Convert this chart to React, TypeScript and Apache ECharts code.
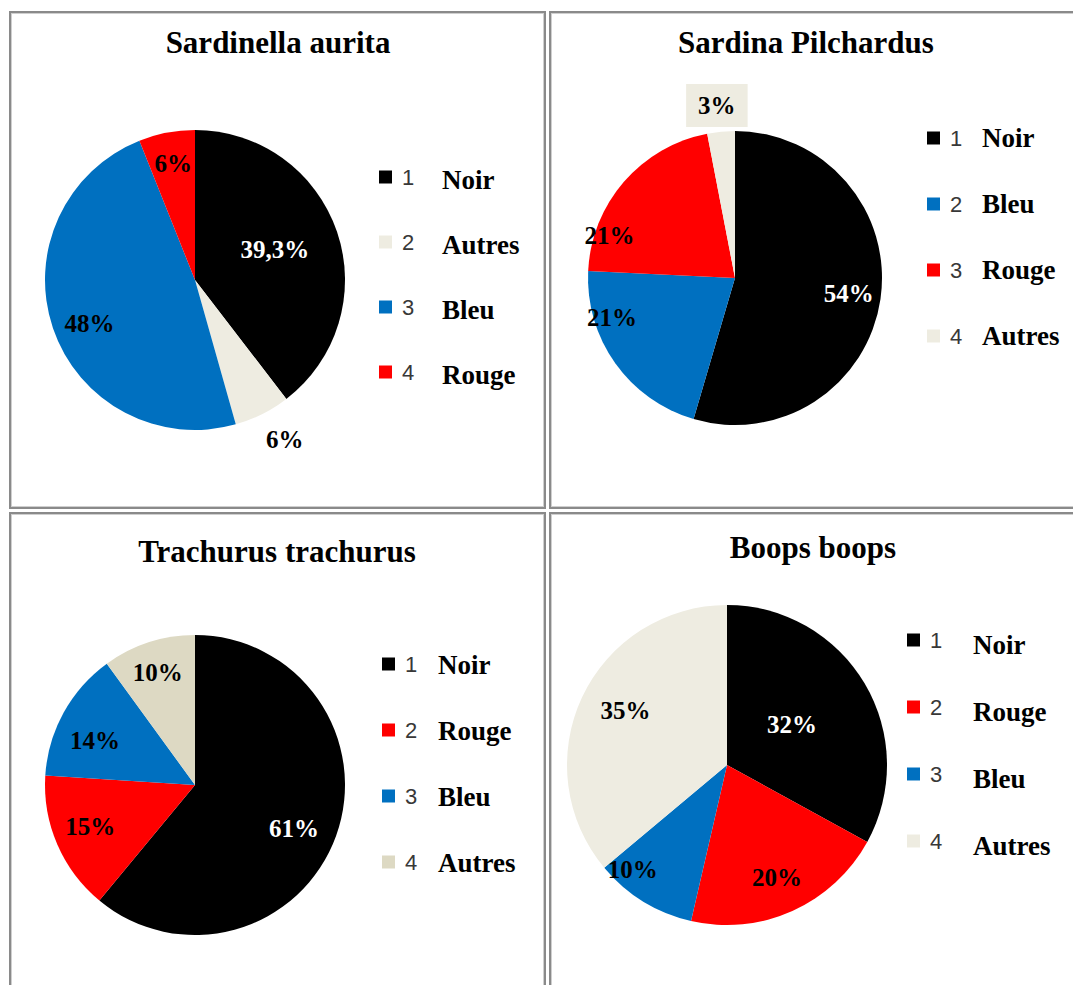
import React, { useEffect, useRef } from "react";
import * as echarts from "echarts";

// ---- data ----
const saNames = ["Noir", "Autres", "Bleu", "Rouge"];
const saValues = [39.3, 6, 48, 6];

const spNames = ["Noir", "Bleu", "Rouge", "Autres"];
const spValues = [54, 21, 21, 3];

const ttNames = ["Noir", "Rouge", "Bleu", "Autres"];
const ttValues = [61, 15, 14, 10];

const bbNames = ["Noir", "Rouge", "Bleu", "Autres"];
const bbValues = [32, 20, 10, 35];

const titles = ["Sardinella aurita", "Sardina Pilchardus", "Trachurus trachurus", "Boops boops"];

// ---- styles ----
const COLOR: Record<string, string> = {
  Noir: "#000000",
  Bleu: "#0070C0",
  Rouge: "#FF0000",
  Autres: "#EEECE1",
};
const SERIF = "'Liberation Serif', 'Times New Roman', serif";
const SANS = "'Liberation Sans', Arial, sans-serif";

type Panel = {
  box: [number, number, number, number];
  title: string;
  titleX: number;
  titleY: number;
  names: string[];
  values: number[];
  colors?: Record<string, string>;
  center: [number, number];
  r: number;
  spots: [number, number][];
  legend: { x: number; y: number; gap: number; numW: number; dy: number };
  boxed?: number;
};

const panels: Panel[] = [
  {
    box: [9, 11, 537, 498],
    title: titles[0],
    titleX: 278,
    titleY: 43,
    names: saNames,
    values: saValues,
    center: [195, 280],
    r: 150,
    spots: [[0.57, 69], [1.22, 150.6], [0.76, 247.7], [0.79, 349.4]],
    legend: { x: 379, y: 177, gap: 65, numW: 40, dy: 3 },
  },
  {
    box: [549, 11, 540, 498],
    title: titles[1],
    titleX: 806,
    titleY: 43,
    names: spNames,
    values: spValues,
    center: [735, 278],
    r: 147,
    spots: [[0.78, 97.6], [0.88, 252], [0.9, 288.6], [1.18, 354]],
    legend: { x: 927, y: 138, gap: 66, numW: 32, dy: 0 },
    boxed: 3,
  },
  {
    box: [9, 512, 537, 500],
    title: titles[2],
    titleX: 277,
    titleY: 552,
    names: ttNames,
    values: ttValues,
    colors: { Autres: "#DDD9C3" },
    center: [195, 785],
    r: 150,
    spots: [[0.72, 113.5], [0.75, 248.5], [0.73, 294.2], [0.79, 341.7]],
    legend: { x: 382, y: 664, gap: 66, numW: 33, dy: 1 },
  },
  {
    box: [549, 512, 540, 500],
    title: titles[3],
    titleX: 813,
    titleY: 548,
    names: bbNames,
    values: bbValues,
    center: [727, 765],
    r: 160,
    spots: [[0.48, 57.8], [0.77, 156], [0.88, 222], [0.72, 298.3]],
    legend: { x: 907, y: 640, gap: 67, numW: 43, dy: 5 },
  },
];

function fmtPct(v: number) {
  return String(v).replace(".", ",") + "%";
}

function buildOption(p: Panel) {
  const ox = p.box[0];
  const oy = p.box[1];
  const cx = p.center[0] - ox;
  const cy = p.center[1] - oy;
  const colorOf = (n: string) => (p.colors && p.colors[n]) || COLOR[n];
  const LH = 30;
  const H = 27 + 2 * p.legend.dy;
  return {
    animation: false,
    title: {
      text: p.title,
      left: p.titleX - ox,
      top: p.titleY - oy - 16,
      textAlign: "center",
      padding: 0,
      textStyle: { fontFamily: SERIF, fontWeight: "bold", fontSize: 31, color: "#000" },
    },
    legend: {
      orient: "vertical",
      left: p.legend.x - ox,
      top: p.legend.y - oy - 13.5 - p.legend.dy,
      padding: 0,
      icon: "rect",
      itemWidth: 13,
      itemHeight: 13,
      itemGap: p.legend.gap - H,
      selectedMode: false,
      data: p.names,
      formatter: (name: string) => `{n|${p.names.indexOf(name) + 1}}{t|${name}}`,
      textStyle: {
        rich: {
          n: {
            fontFamily: SANS,
            fontSize: 22,
            color: "#383838",
            width: p.legend.numW,
            padding: [0, 0, 0, 5],
            lineHeight: LH,
          },
          t: {
            fontFamily: SERIF,
            fontWeight: "bold",
            fontSize: 27,
            color: "#000",
            lineHeight: LH,
            padding: [p.legend.dy * 2, 0, 0, 0],
          },
        },
      },
    },
    series: [
      {
        type: "pie",
        center: [cx, cy],
        radius: p.r,
        startAngle: 90,
        clockwise: true,
        avoidLabelOverlap: false,
        emphasis: { disabled: true },
        itemStyle: { borderWidth: 0 },
        labelLine: { show: false },
        label: {
          show: true,
          position: "inside",
          fontFamily: SERIF,
          fontWeight: "bold",
          fontSize: 25,
          formatter: (d: any) => fmtPct(d.value),
        },
        labelLayout: (params: any) => {
          const s = p.spots[params.dataIndex];
          const a = (s[1] * Math.PI) / 180;
          return {
            x: cx + s[0] * p.r * Math.sin(a),
            y: cy - s[0] * p.r * Math.cos(a),
            align: "center",
            verticalAlign: "middle",
          };
        },
        data: p.names.map((n, i) => ({
          name: n,
          value: p.values[i],
          itemStyle: { color: colorOf(n) },
          label:
            i === p.boxed
              ? { color: "#000", backgroundColor: colorOf(n), padding: [9, 12] }
              : { color: n === "Noir" ? "#fff" : "#000" },
        })),
      },
    ],
  };
}

function PanelChart({ p }: { p: Panel }) {
  const ref = useRef<HTMLDivElement>(null);
  useEffect(() => {
    if (!ref.current) return;
    const chart = echarts.init(ref.current, undefined, { renderer: "svg" });
    chart.setOption(buildOption(p) as any);
    return () => chart.dispose();
  }, [p]);
  return (
    <>
      <div
        ref={ref}
        style={{
          position: "absolute",
          left: p.box[0],
          top: p.box[1],
          width: p.box[2],
          height: p.box[3],
        }}
      />
      <div
        style={{
          position: "absolute",
          left: p.box[0],
          top: p.box[1],
          width: p.box[2],
          height: p.box[3],
          boxSizing: "border-box",
          border: "2px solid #8a8a8a",
          boxShadow: "inset 0 0 0 1px #cfcfcf",
          pointerEvents: "none",
        }}
      />
    </>
  );
}

export default function App() {
  return (
    <div
      style={{
        position: "fixed",
        left: 0,
        top: 0,
        width: 1073,
        height: 985,
        overflow: "hidden",
        background: "#fff",
      }}
    >
      {panels.map((p, i) => (
        <PanelChart key={i} p={p} />
      ))}
    </div>
  );
}
